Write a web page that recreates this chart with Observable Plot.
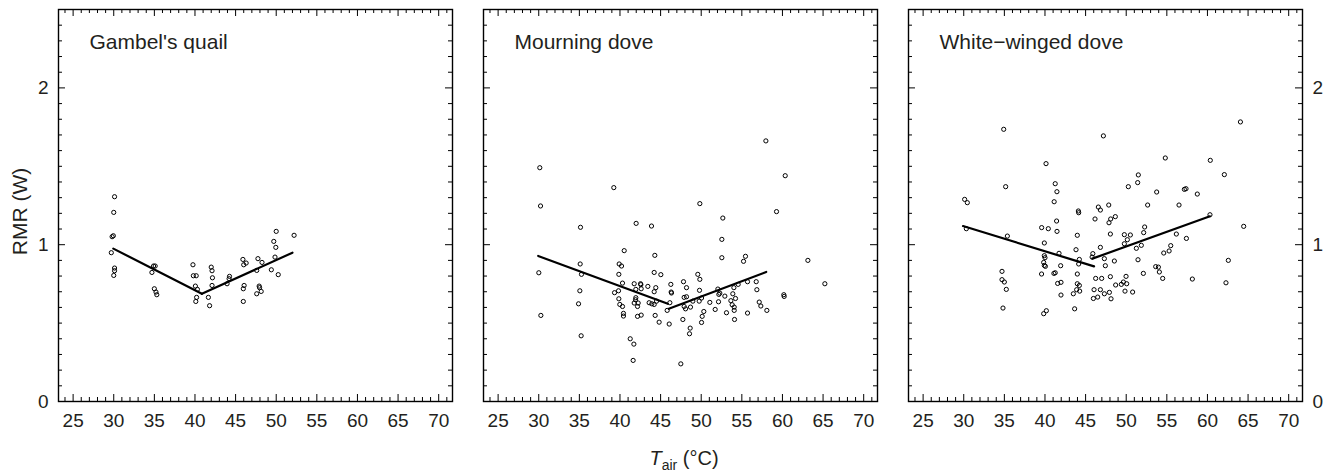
<!DOCTYPE html>
<html><head><meta charset="utf-8">
<script src="https://cdn.jsdelivr.net/npm/d3@7"></script>
<script src="https://cdn.jsdelivr.net/npm/@observablehq/plot@0.6"></script>
<style>
html,body{margin:0;padding:0;background:#fff;}
#wrap{position:relative;width:1331px;height:472px;font-family:"Liberation Sans",Arial,sans-serif;color:#231f20;}
#xtitle{position:absolute;left:584px;width:200px;top:448px;text-align:center;font-size:20px;line-height:1;}
#xtitle sub{font-size:14px;vertical-align:-5px;line-height:0;}
</style></head><body>
<div id="wrap"><div id="chart"></div><div id="xtitle"><i>T</i><sub>air</sub> (°C)</div></div>
<script>
const species = ["Gambel's quail", "Mourning dove", "White\u2212winged dove"];

const quailT = [30.1,30.0,29.95,29.8,29.7,30.1,30.1,30.0,34.7,34.9,35.1,35.0,35.2,35.3,39.75,39.8,40.15,40.05,40.3,40.2,40.1,41.65,41.8,42.0,42.1,42.15,42.1,43.95,44.2,44.25,45.9,46.0,46.3,46.05,45.95,45.95,47.75,48.25,47.6,47.9,47.95,47.6,48.15,49.7,50.0,49.95,49.85,49.4,50.25,52.2];
const quailRMR = [1.306,1.206,1.057,1.051,0.949,0.851,0.834,0.804,0.823,0.864,0.864,0.719,0.698,0.681,0.872,0.802,0.802,0.736,0.715,0.664,0.638,0.664,0.611,0.857,0.834,0.789,0.740,0.751,0.783,0.798,0.906,0.872,0.883,0.740,0.719,0.638,0.911,0.887,0.836,0.736,0.726,0.687,0.702,1.021,1.085,0.983,0.921,0.840,0.809,1.06];

const mourningT = [30.13,30.22,30.01,35.14,35.1,35.26,39.24,40.52,41.99,43.88,44.29,39.9,40.19,39.86,44.21,45.03,49.83,52.66,52.54,52.54,55.21,55.45,57.96,60.34,59.27,63.13,65.22,49.58,49.83,
40.31,39.82,39.33,39.86,39.98,40.31,40.43,40.43,41.75,42.53,41.95,41.95,41.91,41.75,42.24,42.16,42.16,42.61,43.43,44.41,44.21,43.59,43.92,44.21,44.5,44.33,44.82,46.26,46.3,46.14,45.81,46.06,47.82,48.19,47.9,48.19,47.9,48.07,48.68,48.97,47.74,48.64,48.56,49.79,50.04,49.75,50.12,50.32,50.04,51.06,52.05,52.17,52.91,52.13,51.72,53.11,53.89,54.22,53.65,53.81,54.06,54.06,54.1,55.7,56.77,56.85,57.14,57.34,58.08,55.7,60.17,60.21,34.9,35.06,30.26,35.22,41.26,41.71,41.62,47.49,46.34,52.29,42.61,42.57,54.55,54.02];
const mourningRMR = [1.491,1.247,0.821,1.111,0.877,0.811,1.364,0.962,1.136,1.119,0.932,0.877,0.864,0.811,0.823,0.809,1.262,1.17,1.034,0.917,0.894,0.926,1.662,1.44,1.211,0.9,0.751,0.811,0.779,
0.755,0.706,0.694,0.655,0.619,0.606,0.562,0.545,0.751,0.751,0.715,0.662,0.649,0.628,0.628,0.606,0.543,0.551,0.734,0.726,0.7,0.63,0.623,0.619,0.64,0.549,0.506,0.747,0.698,0.63,0.581,0.494,0.764,0.726,0.664,0.668,0.606,0.591,0.602,0.64,0.523,0.468,0.432,0.709,0.66,0.64,0.543,0.574,0.504,0.632,0.717,0.683,0.672,0.636,0.587,0.566,0.687,0.657,0.643,0.617,0.602,0.581,0.523,0.764,0.764,0.713,0.634,0.609,0.581,0.564,0.681,0.67,0.623,0.706,0.549,0.419,0.4,0.366,0.262,0.24,0.692,0.691,0.719,0.745,0.747,0.726];

const whiteT = [34.92,47.19,64.06,40.13,54.81,60.35,62.08,51.49,51.41,50.26,53.75,57.16,57.36,58.75,41.26,41.47,41.13,35.16,30.11,30.44,30.32,35.37,44.11,44.15,41.43,46.57,46.82,47.85,46.16,48.09,47.88,48.66,52.64,56.5,60.31,64.46,52.27,52.15,56.17,57.41,39.59,40.41,41.48,43.98,48.05,49.77,50.51,50.14,49.77,51.86,51.25,55.48,55.28,54.62,39.92,43.82,41.73,39.92,40.0,39.84,39.92,40.05,41.93,44.23,44.15,41.26,41.1,39.58,43.98,46.82,45.89,45.8,47.31,48.54,47.43,51.45,53.63,53.96,54.08,52.11,54.49,58.14,62.57,62.28,34.71,34.71,46.24,46.98,48.05,49.98,
35.0,35.24,34.83,41.56,41.97,41.97,43.49,43.98,44.23,43.9,44.27,43.65,39.84,40.17,46.04,46.82,47.31,45.96,46.49,47.93,48.13,48.7,49.4,49.65,50.06,49.85,50.79];
const whiteRMR = [1.736,1.694,1.783,1.517,1.553,1.538,1.447,1.445,1.396,1.37,1.336,1.353,1.357,1.323,1.389,1.338,1.274,1.37,1.289,1.268,1.102,1.055,1.215,1.204,1.151,1.24,1.221,1.253,1.164,1.164,1.14,1.179,1.253,1.253,1.191,1.117,1.113,1.077,1.068,1.04,1.109,1.102,1.085,1.06,1.068,1.064,1.062,1.032,1.006,0.996,0.977,0.994,0.96,0.947,1.011,0.968,0.945,0.93,0.917,0.887,0.868,0.862,0.866,0.906,0.877,0.821,0.817,0.813,0.813,0.983,0.943,0.921,0.911,0.896,0.866,0.904,0.86,0.857,0.826,0.817,0.785,0.781,0.9,0.757,0.83,0.777,0.785,0.785,0.796,0.798,
0.762,0.715,0.596,0.753,0.76,0.679,0.687,0.751,0.74,0.713,0.704,0.591,0.56,0.579,0.713,0.713,0.687,0.657,0.666,0.696,0.655,0.743,0.747,0.762,0.751,0.704,0.698];

// two-phase regression segments: [start, end] for each segment
const quailLineT = [[29.95, 40.85], [40.85, 52.0]];
const quailLineRMR = [[0.975, 0.687], [0.687, 0.949]];
const mourningLineT = [[29.93, 45.89], [46.01, 58.0]];
const mourningLineRMR = [[0.928, 0.623], [0.591, 0.826]];
const whiteLineT = [[29.91, 46.04], [45.83, 60.31]];
const whiteLineRMR = [[1.119, 0.862], [0.911, 1.181]];

const xMajorTicks = [25, 30, 35, 40, 45, 50, 55, 60, 65, 70];
const xMinorTicks = d3.range(24, 72).filter(v => v % 5 !== 0);
const yMajorTicks = [0, 1, 2];
const yMinorTicks = d3.range(1, 25).filter(i => i % 10 !== 0).map(i => i / 10);

const xDomain = [23.2, 71.7], yDomain = [0, 2.5];

const points = [
  ...quailT.map((t, i) => ({species: species[0], T: t, RMR: quailRMR[i]})),
  ...mourningT.map((t, i) => ({species: species[1], T: t, RMR: mourningRMR[i]})),
  ...whiteT.map((t, i) => ({species: species[2], T: t, RMR: whiteRMR[i]}))
];
const lines = [];
[[quailLineT, quailLineRMR], [mourningLineT, mourningLineRMR], [whiteLineT, whiteLineRMR]].forEach(([LT, LR], s) => {
  LT.forEach((seg, k) => seg.forEach((t, j) => lines.push({species: species[s], seg: s + "-" + k, T: t, RMR: LR[k][j]})));
});

const W = 1331, H = 440, mL = 57, mR = 29, mT = 9, mB = 39;
const pad = 0.074;
const bandW = (W - mL - mR) * (1 - pad) / (3 - pad);
const kx = (xDomain[1] - xDomain[0]) / bandW;
const ky = (yDomain[1] - yDomain[0]) / (H - mT - mB);
const major = 7, minor = 4;
const ink = "#000";
const fmt = d => String(d);

const chart = Plot.plot({
  width: W, height: H,
  marginLeft: mL, marginRight: mR, marginTop: mT, marginBottom: mB,
  style: {fontFamily: "'Liberation Sans', Arial, sans-serif", fontSize: "19px", color: "#231f20", background: "#fff"},
  fx: {domain: species, axis: null, paddingInner: pad, paddingOuter: 0},
  x: {domain: xDomain},
  y: {domain: yDomain},
  marks: [
    Plot.ruleX(xMajorTicks, {x: d => d, y1: 0, y2: major * ky, stroke: ink}),
    Plot.ruleX(xMinorTicks, {x: d => d, y1: 0, y2: minor * ky, stroke: ink}),
    Plot.ruleX(xMajorTicks, {x: d => d, y1: yDomain[1], y2: yDomain[1] - major * ky, stroke: ink}),
    Plot.ruleX(xMinorTicks, {x: d => d, y1: yDomain[1], y2: yDomain[1] - minor * ky, stroke: ink}),
    Plot.ruleY(yMajorTicks, {y: d => d, x1: xDomain[0], x2: xDomain[0] + major * kx, stroke: ink}),
    Plot.ruleY(yMinorTicks, {y: d => d, x1: xDomain[0], x2: xDomain[0] + minor * kx, stroke: ink}),
    Plot.ruleY(yMajorTicks, {y: d => d, x1: xDomain[1], x2: xDomain[1] - major * kx, stroke: ink}),
    Plot.ruleY(yMinorTicks, {y: d => d, x1: xDomain[1], x2: xDomain[1] - minor * kx, stroke: ink}),
    Plot.frame({stroke: ink, strokeWidth: 1.4}),
    Plot.axisX({ticks: xMajorTicks, tickFormat: fmt, tickSize: 0, tickPadding: 12, label: null, fontSize: 19}),
    Plot.axisY({anchor: "left", ticks: yMajorTicks, tickFormat: fmt, tickSize: 0, tickPadding: 10, label: null, fontSize: 19}),
    Plot.axisY({anchor: "right", ticks: yMajorTicks, tickFormat: fmt, tickSize: 0, tickPadding: 10, label: null, fontSize: 19}),
    Plot.line(lines, {fx: "species", x: "T", y: "RMR", z: "seg", stroke: ink, strokeWidth: 2.2}),
    Plot.dot(points, {fx: "species", x: "T", y: "RMR", r: 2.1, stroke: ink, strokeWidth: 1, fill: "none"}),
    Plot.text(species, {fx: d => d, text: d => d, frameAnchor: "top-left", dx: 31, dy: 25, lineAnchor: "top", textAnchor: "start", fontSize: 21}),
    Plot.text([{s: species[0], t: "RMR (W)"}], {fx: "s", text: "t", frameAnchor: "left", rotate: -90, dx: -32, dy: 6, lineAnchor: "bottom", textAnchor: "middle", fontSize: 21})
  ]
});
document.getElementById("chart").appendChild(chart);
</script>
</body></html>
